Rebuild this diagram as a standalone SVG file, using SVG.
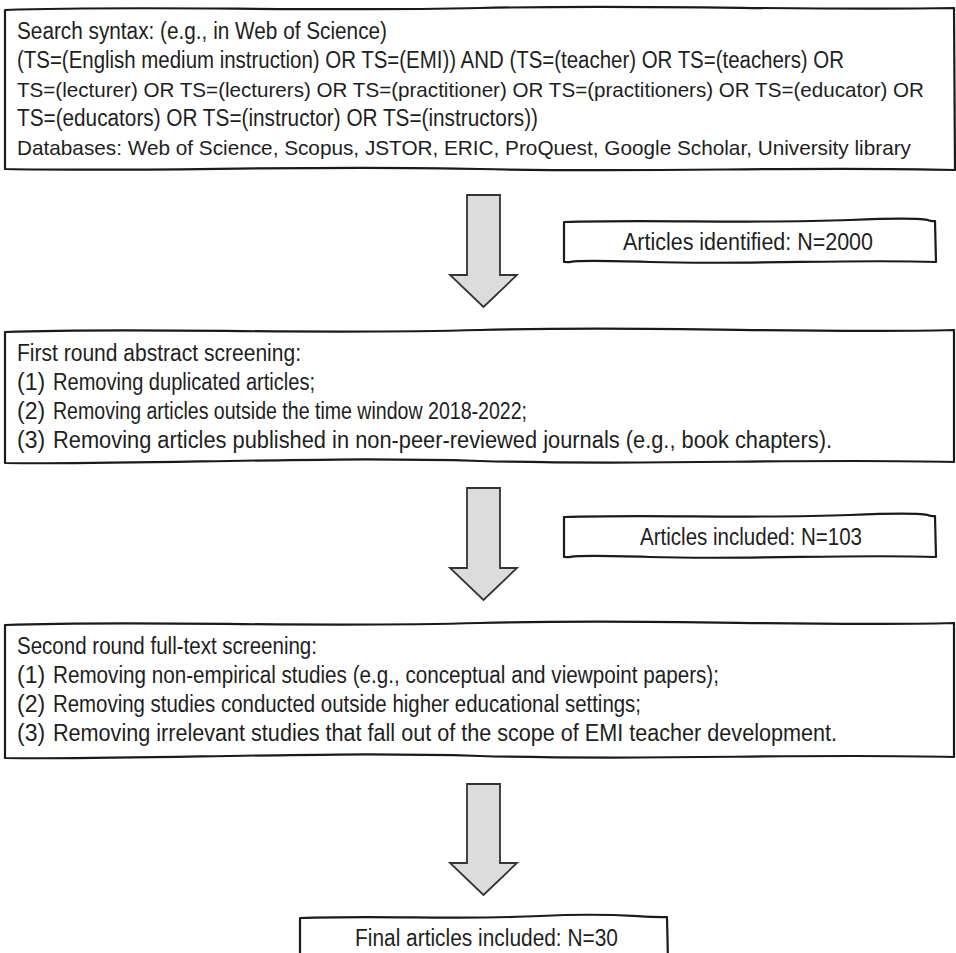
<svg xmlns="http://www.w3.org/2000/svg" width="956" height="953" viewBox="0 0 956 953">
<style>
.box{fill:#fff;stroke:#1a1a1a;stroke-width:2.2;stroke-linejoin:round}
.arr{fill:#dcdcdc;stroke:#333;stroke-width:1.8;stroke-linejoin:miter}
text{font-family:"Liberation Sans Narrow","Liberation Sans",Arial,sans-serif;font-size:23px;fill:#1e1e1e}
text.w{font-size:21px}
</style>
<rect width="956" height="953" fill="#fff"/>
<g id="connectors">
<path class="arr" d="M467,195 L500,195 L500,275 L517,275 L483.5,307 L450,275 L467,275 Z"/>
<path class="arr" d="M467,488 L500,488 L500,568 L517,568 L483.5,600 L450,568 L467,568 Z"/>
<path class="arr" d="M467,784 L500,784 L500,863 L517,863 L483.5,895 L450,863 L467,863 Z"/>
</g>
<g id="search">
<path class="box" d="M5,10 C150,5 300,12 480,8 S800,11 954,8 L955,170 C800,166 650,173 480,169 S150,172 5,169 Z"/>
<text x="17" y="39" textLength="370" lengthAdjust="spacingAndGlyphs">Search syntax: (e.g., in Web of Science)</text>
<text x="17" y="68" textLength="827" lengthAdjust="spacingAndGlyphs">(TS=(English medium instruction) OR TS=(EMI)) AND (TS=(teacher) OR TS=(teachers) OR</text>
<text class="w" x="17" y="97" textLength="907" lengthAdjust="spacingAndGlyphs">TS=(lecturer) OR TS=(lecturers) OR TS=(practitioner) OR TS=(practitioners) OR TS=(educator) OR</text>
<text x="17" y="126" textLength="521" lengthAdjust="spacingAndGlyphs">TS=(educators) OR TS=(instructor) OR TS=(instructors))</text>
<text class="w" x="17" y="155" textLength="894" lengthAdjust="spacingAndGlyphs">Databases: Web of Science, Scopus, JSTOR, ERIC, ProQuest, Google Scholar, University library</text>
</g>
<g id="identified">
<path class="box" d="M564,222 C650,219 750,224 850,220 S920,222 935,221 L936,262 C850,259 750,265 650,262 S580,263 564,262 Z"/>
<text x="623" y="250" textLength="250" lengthAdjust="spacingAndGlyphs">Articles identified: N=2000</text>
</g>
<g id="first-round">
<path class="box" d="M5,332 C150,327 300,335 480,330 S800,334 954,330 L954,462 C800,458 650,466 480,461 S150,465 5,463 Z"/>
<text x="17" y="361" textLength="284" lengthAdjust="spacingAndGlyphs">First round abstract screening:</text>
<text x="17" y="390">(1)</text>
<text x="53" y="390" textLength="262" lengthAdjust="spacingAndGlyphs">Removing duplicated articles;</text>
<text x="17" y="419">(2)</text>
<text x="53" y="419" textLength="474" lengthAdjust="spacingAndGlyphs">Removing articles outside the time window 2018-2022;</text>
<text x="17" y="448">(3)</text>
<text x="53" y="448" textLength="779" lengthAdjust="spacingAndGlyphs">Removing articles published in non-peer-reviewed journals (e.g., book chapters).</text>
</g>
<g id="included">
<path class="box" d="M564,517 C650,514 750,519 850,515 S920,517 935,516 L936,557 C850,554 750,560 650,557 S580,558 564,557 Z"/>
<text x="640" y="545" textLength="222" lengthAdjust="spacingAndGlyphs">Articles included: N=103</text>
</g>
<g id="second-round">
<path class="box" d="M5,625 C150,620 300,628 480,623 S800,627 954,623 L954,757 C800,753 650,761 480,756 S150,760 5,758 Z"/>
<text x="17" y="654" textLength="300" lengthAdjust="spacingAndGlyphs">Second round full-text screening:</text>
<text x="17" y="683">(1)</text>
<text x="53" y="683" textLength="666" lengthAdjust="spacingAndGlyphs">Removing non-empirical studies (e.g., conceptual and viewpoint papers);</text>
<text x="17" y="712">(2)</text>
<text x="53" y="712" textLength="588" lengthAdjust="spacingAndGlyphs">Removing studies conducted outside higher educational settings;</text>
<text x="17" y="741">(3)</text>
<text x="53" y="741" textLength="784" lengthAdjust="spacingAndGlyphs">Removing irrelevant studies that fall out of the scope of EMI teacher development.</text>
</g>
<g id="final">
<path class="box" d="M300,918 C380,915 460,920 540,916 S640,918 667,917 L668,962 L300,962 Z"/>
<text x="355" y="946" textLength="263" lengthAdjust="spacingAndGlyphs">Final articles included: N=30</text>
</g>
</svg>
